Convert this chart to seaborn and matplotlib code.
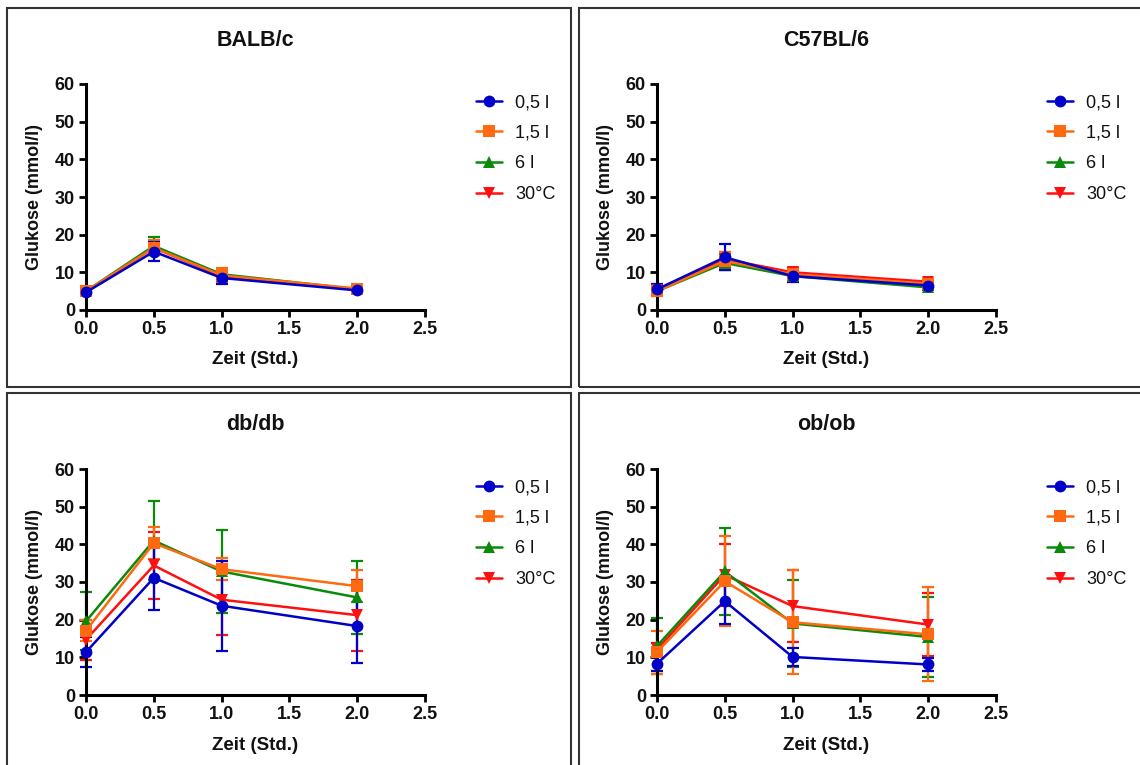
import numpy as np
import pandas as pd
import matplotlib
matplotlib.use("Agg")
import matplotlib.pyplot as plt
import seaborn as sns
from matplotlib.patches import Rectangle

# ---------------- data ----------------
times = [0.0, 0.5, 1.0, 2.0]
groups = ["0,5 l", "1,5 l", "6 l", "30°C"]
panels = ["BALB/c", "C57BL/6", "db/db", "ob/ob"]

balb_mean = {
    "0,5 l": [4.7, 15.5, 8.5, 5.2],
    "1,5 l": [5.0, 16.5, 9.2, 5.7],
    "6 l":   [5.0, 17.0, 9.5, 5.5],
    "30°C":  [4.8, 16.5, 9.0, 5.5],
}
balb_sd = {
    "0,5 l": [0.8, 2.5, 1.5, 0.5],
    "1,5 l": [0.8, 2.0, 2.0, 0.7],
    "6 l":   [0.6, 2.5, 1.5, 0.5],
    "30°C":  [0.6, 2.0, 1.5, 0.5],
}
c57_mean = {
    "0,5 l": [5.5, 14.0, 9.0, 6.5],
    "1,5 l": [5.0, 13.0, 9.5, 7.0],
    "6 l":   [5.0, 12.5, 9.0, 6.0],
    "30°C":  [5.2, 13.5, 10.0, 7.5],
}
c57_sd = {
    "0,5 l": [1.5, 3.5, 1.5, 1.0],
    "1,5 l": [1.2, 2.5, 1.5, 1.0],
    "6 l":   [1.0, 2.0, 1.2, 0.8],
    "30°C":  [1.0, 2.0, 1.2, 0.8],
}
db_mean = {
    "0,5 l": [11.4, 31.1, 23.7, 18.3],
    "1,5 l": [17.1, 40.3, 33.4, 28.9],
    "6 l":   [19.6, 41.0, 32.8, 25.9],
    "30°C":  [14.7, 34.4, 25.3, 21.2],
}
db_sd = {
    "0,5 l": [4.0, 8.5, 12.0, 9.8],
    "1,5 l": [2.7, 4.3, 3.0, 4.2],
    "6 l":   [7.7, 10.4, 11.0, 9.8],
    "30°C":  [5.3, 8.8, 9.4, 9.4],
}
ob_mean = {
    "0,5 l": [8.3, 24.9, 10.1, 8.1],
    "1,5 l": [11.4, 30.2, 19.3, 16.1],
    "6 l":   [13.0, 32.8, 19.0, 15.4],
    "30°C":  [12.1, 31.9, 23.6, 18.7],
}
ob_sd = {
    "0,5 l": [2.0, 6.0, 2.3, 1.8],
    "1,5 l": [5.7, 12.0, 13.8, 12.5],
    "6 l":   [7.5, 11.5, 11.5, 10.5],
    "30°C":  [1.8, 8.2, 9.5, 8.4],
}
means = [balb_mean, c57_mean, db_mean, ob_mean]
sds = [balb_sd, c57_sd, db_sd, ob_sd]

x_ticks = [0.0, 0.5, 1.0, 1.5, 2.0, 2.5]
y_ticks = [0, 10, 20, 30, 40, 50, 60]

# ---------------- style ----------------
sns.set_theme(style="ticks")
plt.rcParams["font.family"] = ["Liberation Sans", "DejaVu Sans"]

colors = {"0,5 l": "#0000C8", "1,5 l": "#FF6A10", "6 l": "#0A8A0A", "30°C": "#FF1010"}
markers = {"0,5 l": "o", "1,5 l": "s", "6 l": "^", "30°C": "v"}
draw_order = ["30°C", "6 l", "1,5 l", "0,5 l"]

W, H = 1140, 765
fig = plt.figure(figsize=(W / 100, H / 100), dpi=100)

# panel borders (pixel boxes)
boxes = [(7, 8, 571, 387), (579, 8, 1146, 387), (7, 393, 571, 770), (579, 393, 1146, 770)]
for (x0, y0, x1, y1) in boxes:
    fig.patches.append(Rectangle((x0 / W, 1 - y1 / H), (x1 - x0) / W, (y1 - y0) / H,
                                 transform=fig.transFigure, fill=False,
                                 edgecolor="#333333", linewidth=1.5))

# axes positions in pixels: (left, right, top(y60), bottom(y0))
ax_px = [(86, 425, 84, 310), (657, 996, 84, 310), (86, 425, 469, 695), (657, 996, 469, 695)]

for i, name in enumerate(panels):
    l, r, t, b = ax_px[i]
    aw, ah = r - l, b - t
    ax = fig.add_axes([l / W, 1 - b / H, aw / W, ah / H])
    rows = []
    for g in groups:
        for tt, m, s in zip(times, means[i][g], sds[i][g]):
            rows.append({"t": tt, "mean": m, "sd": s, "group": g})
    df = pd.DataFrame(rows)

    for g in draw_order:
        d = df[df.group == g]
        ax.errorbar(d["t"], d["mean"], yerr=d["sd"], fmt="none", ecolor=colors[g],
                    elinewidth=1.6, capsize=4, capthick=1.6, zorder=2, clip_on=False)
    for g in draw_order:
        d = df[df.group == g]
        sns.lineplot(data=d, x="t", y="mean", ax=ax, color=colors[g], marker=markers[g],
                     markersize=8.5, markeredgewidth=0, linewidth=1.8, label=g,
                     errorbar=None, zorder=3, clip_on=False)

    ax.set_xlim(0, 2.5)
    ax.set_ylim(0, 60)
    ax.set_xticks(x_ticks)
    ax.set_xticklabels([f"{v:.1f}" for v in x_ticks])
    ax.set_yticks(y_ticks)
    ax.set_yticklabels([str(v) for v in y_ticks])
    for sp in ["top", "right"]:
        ax.spines[sp].set_visible(False)
    for sp in ["left", "bottom"]:
        ax.spines[sp].set_linewidth(2.2)
        ax.spines[sp].set_color("black")
    ax.tick_params(axis="both", direction="out", length=5, width=2, color="black",
                   labelsize=13, pad=3)
    for lab in ax.get_xticklabels() + ax.get_yticklabels():
        lab.set_fontweight("bold")
        lab.set_color("#111111")

    ax.set_xlabel("Zeit (Std.)", fontsize=13.5, fontweight="bold", color="#111111")
    ax.set_ylabel("Glukose (mmol/l)", fontsize=13, fontweight="bold", color="#111111")
    ax.xaxis.set_label_coords(0.5, -50 / ah)
    ax.xaxis.label.set_verticalalignment("center")
    ax.yaxis.set_label_coords(-51 / aw, 0.5)
    ax.yaxis.label.set_verticalalignment("center")

    ax.text(0.5, 1 + 44 / ah, name, transform=ax.transAxes, ha="center",
            va="center", fontsize=15.5, fontweight="bold", color="#111111")

    handles, labels = ax.get_legend_handles_labels()
    hmap = dict(zip(labels, handles))
    leg = ax.legend([hmap[g] for g in groups], groups, loc="upper left",
                    bbox_to_anchor=(383 / aw, 1 - 3 / ah),
                    frameon=False, fontsize=13, handlelength=1.4, handletextpad=0.75,
                    labelspacing=0.75, borderaxespad=0)
    for txt in leg.get_texts():
        txt.set_color("#111111")

fig.savefig("out.png", dpi=100, facecolor="white")
